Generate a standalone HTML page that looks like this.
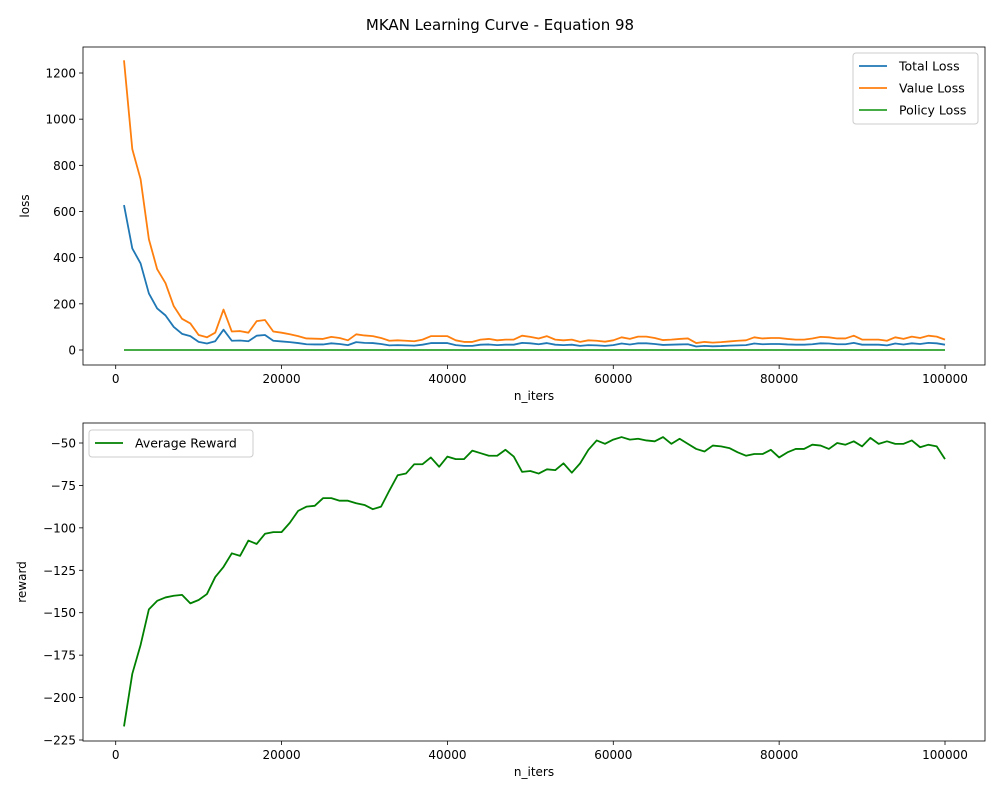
<!DOCTYPE html>
<html><head><meta charset="utf-8"><style>
body{margin:0;background:#fff;font-family:"Liberation Sans","DejaVu Sans",sans-serif}
svg text{font-family:"DejaVu Sans","Liberation Sans",sans-serif}
</style></head><body>
<svg id="fig" width="1000" height="800" xmlns="http://www.w3.org/2000/svg">
<rect width="1000" height="800" fill="#fff"/>
<text x="500" y="30" text-anchor="middle" font-size="15">MKAN Learning Curve - Equation 98</text>
</svg>
<script>
const iters = [];
for (let i = 1; i <= 100; i++) iters.push(i * 1000);
const valueLoss = [1255,870,740,480,350,290,190,135,115,65,55,75,175,80,82,75,125,130,80,75,68,60,50,49,48,57,52,42,68,63,60,52,40,42,40,38,45,60,60,60,42,35,35,45,48,42,45,45,62,57,50,60,45,42,45,35,42,40,36,42,55,48,58,58,52,43,45,48,50,30,35,32,34,37,40,42,55,50,52,52,48,45,45,50,57,55,50,50,62,45,45,45,40,55,48,58,52,62,58,45];
const totalLoss = [628,440,375,245,180,150,100,70,60,35,28,38,88,40,41,38,62,65,40,37,34,30,25,24,24,29,26,21,34,31,30,26,20,21,20,19,23,30,30,30,21,18,18,23,24,21,23,23,31,29,25,30,23,21,23,18,21,20,18,21,28,24,29,29,26,22,23,24,25,15,18,16,17,19,20,21,28,25,26,26,24,23,23,25,29,28,25,25,31,23,23,23,20,28,24,29,26,31,29,23];
const policyLoss = iters.map(() => 0);
const reward = [-217,-186,-169,-148,-143,-141,-140,-139.5,-144.5,-142.5,-139,-129,-123,-115,-116.5,-107.5,-109.5,-103.5,-102.5,-102.5,-97,-90,-87.5,-87,-82.5,-82.5,-84,-84,-85.5,-86.5,-89,-87.5,-78,-69,-68,-62.5,-62.5,-58.5,-64,-58,-59.5,-59.5,-54.5,-56,-57.5,-57.5,-54,-58,-67,-66.5,-68,-65.5,-66,-62,-67.5,-62,-54,-48.5,-50.5,-48,-46.5,-48,-47.5,-48.5,-49,-46.5,-50.5,-47.5,-50.5,-53.5,-55,-51.5,-52,-53,-55.5,-57.5,-56.5,-56.5,-54,-58.5,-55.5,-53.5,-53.5,-51,-51.5,-53.5,-50,-51,-49,-52,-47,-50.5,-49,-50.5,-50.5,-48.5,-52.5,-51,-52,-59.5];
const xTicks = [0,20000,40000,60000,80000,100000];
const lossTicks = [0,200,400,600,800,1000,1200];
const rewardTicks = [-225,-200,-175,-150,-125,-100,-75,-50];

const NS = "http://www.w3.org/2000/svg";
const svg = document.getElementById("fig");
function mk(tag, attrs, parent) {
  const e = document.createElementNS(NS, tag);
  for (const k in attrs) e.setAttribute(k, attrs[k]);
  (parent || svg).appendChild(e);
  return e;
}
const fmt = v => String(v).replace("-", "\u2212");
const L = 83, R = 985;
const xs = v => 124 + (v - 1000) * 821 / 99000;

function axes(top, bottom, yfn, yticks, ylabel, prefix, ylabelX) {
  const g = mk("g", {});
  
  
  xTicks.forEach(t => {
    const x = xs(t);
    mk("line", {x1: x, x2: x, y1: bottom, y2: bottom + 4, stroke: "#000", "stroke-width": 0.8}, g);
    const tx = mk("text", {x: x, y: bottom + 18, "text-anchor": "middle", "font-size": 12}, g);
    tx.textContent = fmt(t);
    
    
  });
  yticks.forEach(t => {
    const y = yfn(t);
    mk("line", {x1: L - 4, x2: L, y1: y, y2: y, stroke: "#000", "stroke-width": 0.8}, g);
    const tx = mk("text", {x: L - 7, y: y + 4.5, "text-anchor": "end", "font-size": 12}, g);
    tx.textContent = fmt(t);
    
    
  });
  const xl = mk("text", {x: (L + R) / 2, y: bottom + 35, "text-anchor": "middle", "font-size": 12}, g);
  xl.textContent = "n_iters";
  
  
  const cy = (top + bottom) / 2;
  const yl = mk("text", {x: ylabelX, y: cy, "text-anchor": "middle", "font-size": 12, transform: `rotate(-90 ${ylabelX} ${cy})`}, g);
  yl.textContent = ylabel;
  
  
}
function line(vals, yfn, color, name) {
  const p = mk("polyline", {points: vals.map((v, i) => xs(iters[i]) + "," + yfn(v)).join(" "), fill: "none", stroke: color, "stroke-width": 1.8, "stroke-linejoin": "round"});
  
  
}
function frame(top, bottom, name) {
  const r = mk("rect", {x: L, y: top, width: R - L, height: bottom - top, fill: "none", stroke: "#000", "stroke-width": 0.8});
  
  
}
function legend(x, y, w, entries, prefix) {
  const g = mk("g", {});
  
  
  mk("rect", {x: x, y: y, width: w, height: entries.length * 22 + 5, rx: 3, fill: "#fff", stroke: "#ccc", "stroke-width": 1}, g);
  entries.forEach((e, i) => {
    const cy = y + 13 + i * 22;
    mk("line", {x1: x + 6, x2: x + 34, y1: cy, y2: cy, stroke: e[1], "stroke-width": 1.8}, g);
    const t = mk("text", {x: x + 46, y: cy + 4.5, "font-size": 12.5}, g);
    t.textContent = e[0];
    
    
  });
}

const yLoss = v => 350 - v * 277 / 1200;
axes(47, 365, yLoss, lossTicks, "loss", "loss", 29);
line(totalLoss, yLoss, "#1f77b4", "total-loss-line");
line(valueLoss, yLoss, "#ff7f0e", "value-loss-line");
line(policyLoss, yLoss, "#2ca02c", "policy-loss-line");
frame(47, 365, "loss-plot-area");
legend(853, 53, 125, [["Total Loss", "#1f77b4"], ["Value Loss", "#ff7f0e"], ["Policy Loss", "#2ca02c"]], "loss");

const yRew = v => 443 + (-50 - v) * 297 / 175;
axes(423, 741, yRew, rewardTicks, "reward", "reward", 26);
line(reward, yRew, "#008000", "average-reward-line");
frame(423, 741, "reward-plot-area");
legend(89, 430, 164, [["Average Reward", "#008000"]], "reward");
</script>
</body></html>
